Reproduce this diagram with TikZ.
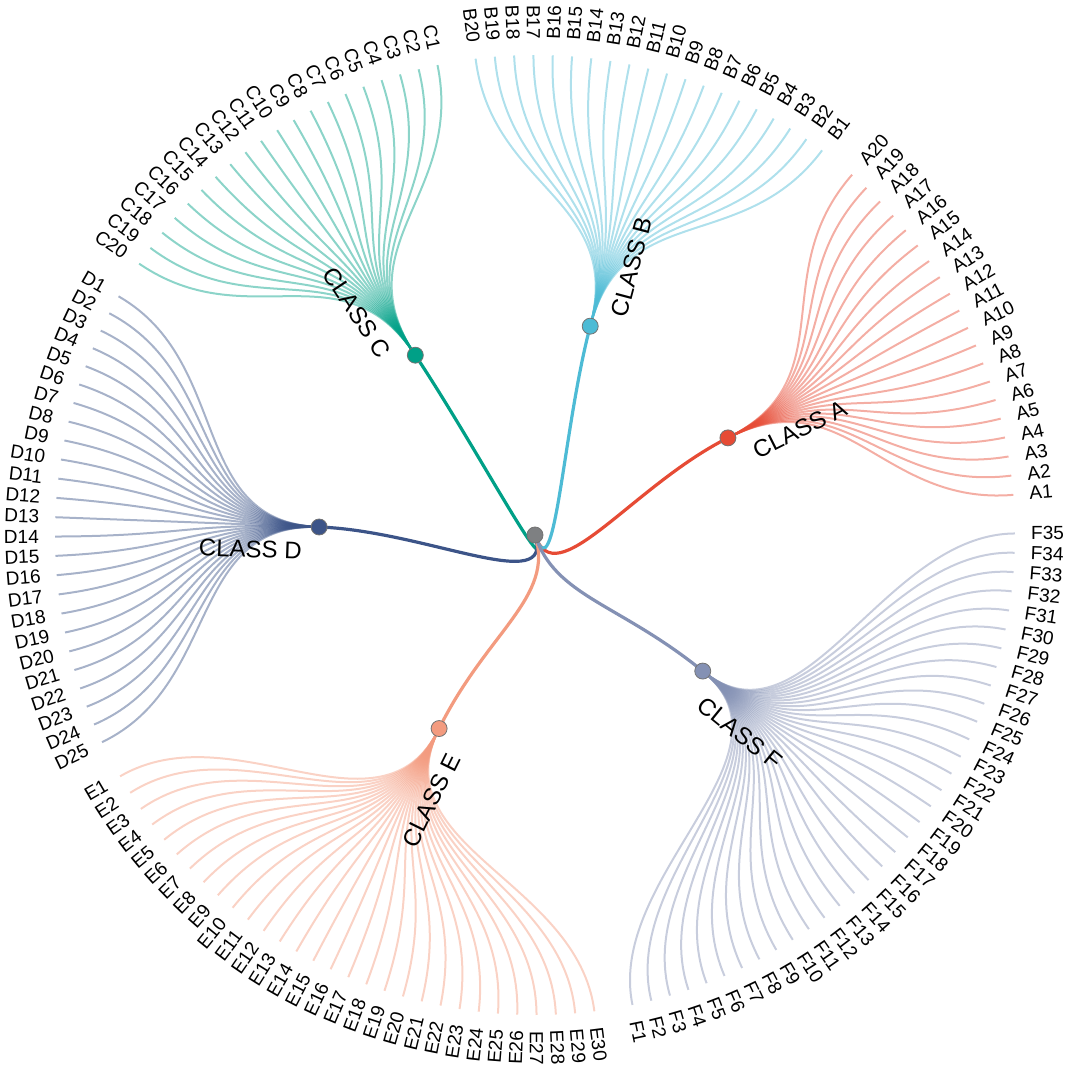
\documentclass[tikz,border=0pt]{standalone}
\usepackage{fontspec}
\setmainfont{Liberation Sans}
\usepackage{xcolor}
\usepackage{tikz}
\usetikzlibrary{backgrounds}

\definecolor{clsA}{HTML}{E64B35}
\definecolor{clsB}{HTML}{4DBBD5}
\definecolor{clsC}{HTML}{00A087}
\definecolor{clsD}{HTML}{3C5488}
\definecolor{clsE}{HTML}{F39B7F}
\definecolor{clsF}{HTML}{8491B4}
\definecolor{rootgray}{HTML}{7E8082}

\begin{document}
\begin{tikzpicture}[
  x=1pt, y=1pt,
  classdot/.style={circle, draw=black!55, line width=0.8pt, minimum size=16pt, inner sep=0pt},
  trunk/.style={line width=3.2pt},
  twig/.style={line width=2pt, draw opacity=0.45},
  leaflabel/.style={font=\fontsize{19}{19}\selectfont, inner sep=0pt},
  classlabel/.style={font=\fontsize{24}{24}\selectfont, inner sep=0pt}
]
\useasboundingbox (-535,-534) rectangle (533,535);

\node[classdot, fill=rootgray] (root) at (0,0) {};

\foreach \cls/\num/\first in {A/20/0, B/20/21, C/20/42, D/25/63, E/30/89, F/35/120} {
  \pgfmathsetmacro{\clsang}{4.8+360/156*(\first+(\num-1)/2)}
  \pgfmathsetmacro{\flip}{and(\clsang>89,\clsang<269)}
  \node[classdot, fill=cls\cls] (\cls) at (\clsang:216) {};
  \begin{scope}[on background layer]
    \draw[trunk, draw=cls\cls] (root.center) .. controls (-72:65) and (\clsang:108) .. (\cls.center);
  \end{scope}
  \ifdim\flip pt>0.5pt
    \node[classlabel, rotate=\clsang-180] (\cls-label) at (\clsang+5:285) {CLASS \cls};
  \else
    \node[classlabel, rotate=\clsang] (\cls-label) at (\clsang-5:285) {CLASS \cls};
  \fi
  \foreach \i in {1,...,\num} {
    \pgfmathsetmacro{\ang}{4.8+360/156*(\first+\i-1)}
    \pgfmathsetmacro{\lflip}{and(\ang>89,\ang<269)}
    \coordinate (\cls\i) at (\ang:480);
    \begin{scope}[on background layer]
      \draw[twig, draw=cls\cls] (\cls.center) .. controls (\clsang:348) and (\ang:348) .. (\cls\i);
    \end{scope}
    \ifdim\lflip pt>0.5pt
      \node[leaflabel, anchor=east, rotate=\ang-180] (\cls\i-label) at (\ang:496) {\cls\i};
    \else
      \node[leaflabel, anchor=west, rotate=\ang] (\cls\i-label) at (\ang:496) {\cls\i};
    \fi
  }
}

\end{tikzpicture}
\end{document}
